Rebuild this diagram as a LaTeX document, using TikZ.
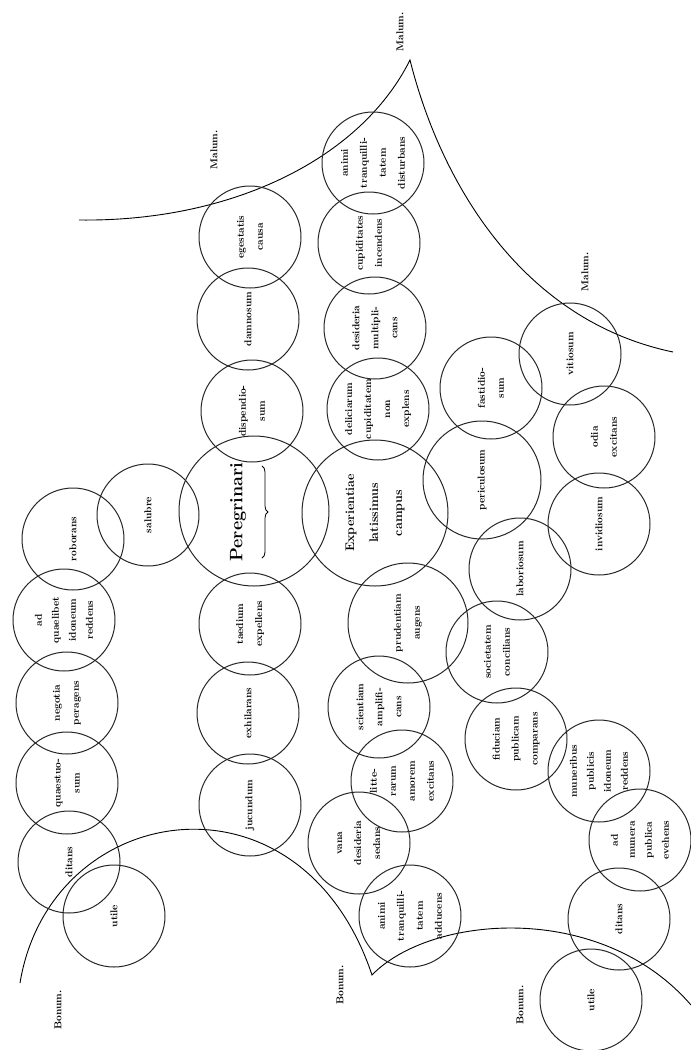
\documentclass[tikz,border=0pt]{standalone}
\usepackage{tikz}
\usetikzlibrary{decorations.pathreplacing}

\begin{document}
\begin{tikzpicture}[x=1pt,y=-1pt,
    bub/.style={circle,draw=black!85,line width=1pt,inner sep=0pt,minimum size=102pt,
      align=center,rotate=90,font=\fontsize{10}{19}\selectfont\bfseries},
    lab/.style={rotate=90,font=\fontsize{10}{12}\selectfont\bfseries}]
  \useasboundingbox (0,0) rectangle (691,1050);
  % boundaries
  \draw[line width=0.9pt] (79,220) .. controls (230,222) and (360,160) .. (410,60)
    .. controls (440,180) and (520,320) .. (673,352);
  \draw[line width=0.9pt] (20,983) .. controls (50,800) and (300,760) .. (372,975)
    .. controls (430,915) and (600,900) .. (691,1005);
  \node[lab] (malA) at (400,32) {Malum.};
  \node[lab] (malB) at (214,150) {Malum.};
  \node[lab] (malC) at (585,272) {Malum.};
  \node[lab] (bonA) at (58,1010) {Bonum.};
  \node[lab] (bonB) at (340,985) {Bonum.};
  \node[lab] (bonC) at (520,1005) {Bonum.};
  % the two centres
  \node[bub,minimum size=150pt] (pereg) at (254,511) {};
  \node[rotate=90,font=\fontsize{18}{20}\selectfont\bfseries] (peregtxt) at (238,512) {Peregrinari};
  \draw[line width=0.8pt,decorate,decoration={brace,amplitude=6pt}] (262,466) -- (262,558);
  \node[bub,minimum size=146pt,font=\fontsize{12.5}{24}\selectfont\bfseries] (exper) at (375,513)
    {Experientiae\\latissimus\\campus};
  % first column
  \node[bub] (util1) at (114,916) {utile};
  \node[bub] (ditA) at (69,862) {ditans};
  \node[bub] (quaest) at (67,783) {quaestuo-\\sum};
  \node[bub] (negot) at (67,703) {negotia\\peragens};
  \node[bub,font=\fontsize{10}{17}\selectfont\bfseries] (quaelib) at (64,620) {ad\\quaelibet\\idoneum\\reddens};
  \node[bub] (robor) at (73,539) {roborans};
  \node[bub] (salub) at (148,515) {salubre};
  % second column
  \node[bub] (egest) at (250,237) {egestatis\\causa};
  \node[bub] (damn) at (248,319) {damnosum};
  \node[bub] (dispend) at (252,411) {dispendio-\\sum};
  \node[bub] (taed) at (250,624) {taedium\\expellens};
  \node[bub] (exhil) at (248,713) {exhilarans};
  \node[bub] (jucund) at (250,805) {jucundum};
  % third column
  \node[bub] (disturb) at (373,163) {animi\\tranquilli-\\tatem\\disturbans};
  \node[bub] (cupid) at (369,243) {cupiditates\\incendens};
  \node[bub] (desid) at (375,328) {desideria\\multipli-\\cans};
  \node[bub] (delic) at (378,409) {deliciarum\\cupiditatem\\non\\explens};
  \node[bub,minimum size=120pt] (prud) at (408,623) {prudentiam\\augens};
  \node[bub] (scient) at (379,707) {scientiam\\amplifi-\\cans};
  \node[bub] (litter) at (402,781) {litte-\\rarum\\amorem\\excitans};
  \node[bub] (vana) at (359,843) {vana\\desideria\\sedans};
  \node[bub] (adduc) at (410,916) {animi\\tranquilli-\\tatem\\adducens};
  % fourth column
  \node[bub] (vitios) at (570,354) {vitiosum};
  \node[bub] (fastid) at (491,388) {fastidio-\\sum};
  \node[bub] (odia) at (604,437) {odia\\excitans};
  \node[bub,minimum size=118pt] (peric) at (482,480) {periculosum};
  \node[bub] (invid) at (599,524) {invidiosum};
  \node[bub] (labor) at (520,569) {laboriosum};
  \node[bub] (societ) at (497,652) {societatem\\concilians};
  \node[bub] (fiduc) at (516,739) {fiduciam\\publicam\\comparans};
  \node[bub,font=\fontsize{10}{17}\selectfont\bfseries] (muner) at (599,771) {muneribus\\publicis\\idoneum\\reddens};
  \node[bub,font=\fontsize{10}{17}\selectfont\bfseries] (evehens) at (640,840) {ad\\munera\\publica\\evehens};
  \node[bub] (ditB) at (619,919) {ditans};
  \node[bub] (util2) at (591,1000) {utile};
\end{tikzpicture}
\end{document}
